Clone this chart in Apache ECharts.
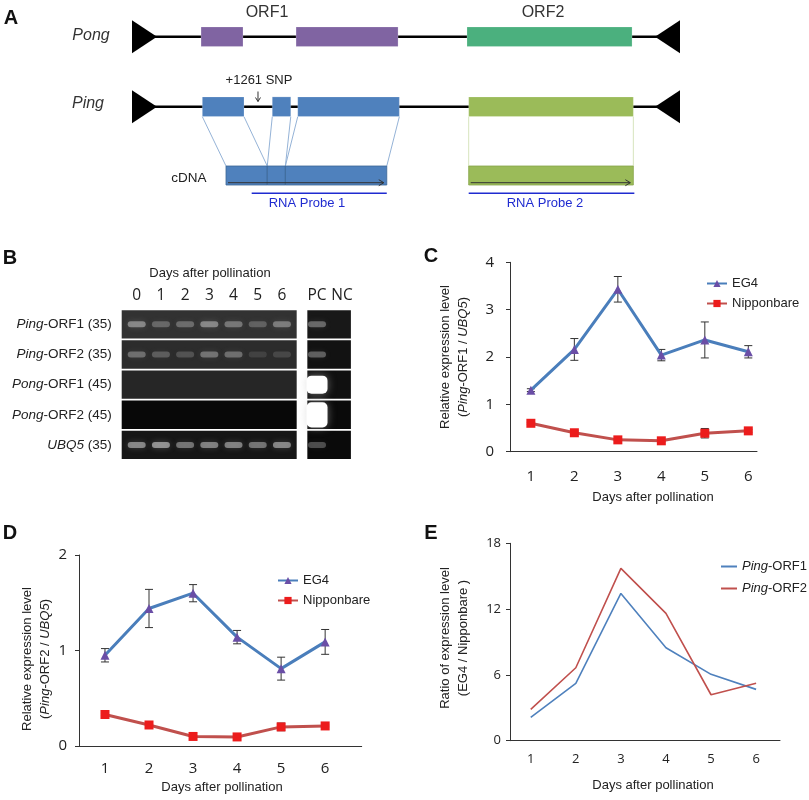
<!DOCTYPE html>
<html>
<head>
<meta charset="utf-8">
<script src="https://cdn.jsdelivr.net/npm/echarts@6/dist/echarts.min.js"></script>
<style>
html, body { margin: 0; padding: 0; background: #fff; }
#chart { width: 809px; height: 800px; }
</style>
</head>
<body>
<div id="chart"></div>
<script>
// ---------- data ----------
const days = [1, 2, 3, 4, 5, 6]

// C: Ping-ORF1 / UBQ5
const orf1EG4 = [1.30, 2.16, 3.43, 2.04, 2.36, 2.11]
const orf1EG4Err = [0.03, 0.23, 0.27, 0.12, 0.38, 0.13]
const orf1Nip = [0.60, 0.40, 0.25, 0.23, 0.39, 0.44]
const orf1NipErr = [0.02, 0.04, 0.02, 0.02, 0.10, 0.03]

// D: Ping-ORF2 / UBQ5
const orf2EG4 = [0.95, 1.44, 1.60, 1.14, 0.81, 1.09]
const orf2EG4Err = [0.07, 0.20, 0.09, 0.07, 0.12, 0.13]
const orf2Nip = [0.33, 0.22, 0.10, 0.095, 0.20, 0.21]
const orf2NipErr = [0.01, 0.01, 0.01, 0.01, 0.04, 0.01]

// E: ratio EG4 / Nipponbare
const ratioOrf1 = [2.13, 5.23, 13.43, 8.48, 6.05, 4.68]
const ratioOrf2 = [2.86, 6.65, 15.71, 11.61, 4.19, 5.23]

// B: RT-PCR gel, band strength per lane (>1 = saturated)
const gelRows = ['{i|Ping}-ORF1 (35)', '{i|Ping}-ORF2 (35)', '{i|Pong}-ORF1 (45)', '{i|Pong}-ORF2 (45)', '{i|UBQ5} (35)']
const gelLanes = ['0', '1', '2', '3', '4', '5', '6', 'PC', 'NC']
const laneX = [0, 1, 2, 3, 4, 5, 6, 7.45, 8.48]
const bandLevel = [
  [0.75, 0.45, 0.5, 0.75, 0.6, 0.4, 0.65, 0.6, 0],
  [0.55, 0.4, 0.3, 0.6, 0.55, 0.15, 0.2, 0.55, 0],
  [0, 0, 0, 0, 0, 0, 0, 2, 0],
  [0, 0, 0, 0, 0, 0, 0, 2.8, 0],
  [0.85, 0.95, 0.7, 0.8, 0.8, 0.7, 0.85, 0.45, 0],
]

// A: element structure (bp)
const elementSpan = [0, 5485]
const tirs = [[0, 250, 1], [5235, 5485, -1]]
const pongExons = [[691, 1111, 1], [1642, 2663, 1], [3353, 5005, 2]]
const pingExons = [[704, 1121, 1], [1404, 1589, 1], [1659, 2676, 1], [3370, 5018, 2]]
const cdnaBlocks = [[941, 1354, 1], [1354, 1535, 1], [1535, 2550, 1], [3370, 5018, 2]]
const splicePairs = [[704, 941, 1], [1121, 1354, 1], [1404, 1354, 1], [1589, 1535, 1], [1659, 1535, 1], [2676, 2550, 1], [3370, 3370, 2], [5018, 5018, 2]]
const transcripts = [[941, 2550], [3370, 5018]]
const probes = [[1198, 2550], [3370, 5028]]
const snpPos = 1261

// ---------- layout / style ----------
const SANS = '"Liberation Sans", Arial, sans-serif'
const NUM = '"Open Sans", sans-serif'
const pongY = 36.7, pingY = 106.7, cdnaY = 175.5, probeY = 193.3
const pongCol = { 1: '#8064a2', 2: '#4bb07e' }
const pingCol = { 1: '#4f81bd', 2: '#9bbb59' }
const linkCol = { 1: '#95b3d7', 2: '#d7e4bd' }
const gelMain = [-0.62, 6.61], gelSide = [7.05, 8.85]
const shadeMain = [50, 44, 38, 8, 22], shadeSide = [24, 18, 16, 10, 10]

const chart = echarts.init(document.getElementById('chart'))

function seg(api, a, b, y) {
  return [api.coord([a, y]), api.coord([b, y])]
}

// panel A series (grid 0)
const aSeries = [
  {
    type: 'custom', xAxisIndex: 0, yAxisIndex: 0, z: 1,
    data: [[elementSpan[0], elementSpan[1], pongY], [elementSpan[0], elementSpan[1], pingY]],
    renderItem: (p, api) => {
      const [s, e] = seg(api, api.value(0), api.value(1), api.value(2))
      return { type: 'line', shape: { x1: s[0], y1: s[1], x2: e[0], y2: e[1] }, style: { stroke: '#000', lineWidth: 2.5 } }
    },
  },
  {
    type: 'custom', xAxisIndex: 0, yAxisIndex: 0, z: 2,
    data: tirs.flatMap((t) => [[t[0], t[1], pongY, t[2]], [t[0], t[1], pingY, t[2]]]),
    renderItem: (p, api) => {
      const [s, e] = seg(api, api.value(0), api.value(1), api.value(2))
      const h = 16.5
      const pts = api.value(3) > 0
        ? [[s[0], s[1] - h], [s[0], s[1] + h], [e[0], s[1]]]
        : [[e[0], s[1] - h], [e[0], s[1] + h], [s[0], s[1]]]
      return { type: 'polygon', shape: { points: pts }, style: { fill: '#000' } }
    },
  },
  {
    type: 'custom', xAxisIndex: 0, yAxisIndex: 0, z: 3,
    data: pongExons.map((x) => [x[0], x[1], pongY, x[2], 0])
      .concat(pingExons.map((x) => [x[0], x[1], pingY, x[2], 1]))
      .concat(cdnaBlocks.map((x) => [x[0], x[1], cdnaY, x[2], 2])),
    renderItem: (p, api) => {
      const [s, e] = seg(api, api.value(0), api.value(1), api.value(2))
      const kind = api.value(4), orf = api.value(3)
      const fill = kind === 0 ? pongCol[orf] : pingCol[orf]
      const h = kind === 2 ? 19 : 19.6
      return {
        type: 'rect',
        shape: { x: s[0], y: s[1] - h / 2, width: e[0] - s[0], height: h },
        style: { fill, stroke: kind === 2 ? (orf === 1 ? '#3a6494' : '#86a349') : 'rgba(255,255,255,0.35)', lineWidth: kind === 2 ? 0.8 : 0.6 },
      }
    },
  },
  {
    type: 'custom', xAxisIndex: 0, yAxisIndex: 0, z: 2,
    data: splicePairs,
    renderItem: (p, api) => {
      const a = api.coord([api.value(0), pingY + 10])
      const b = api.coord([api.value(1), cdnaY - 9.5])
      return { type: 'line', shape: { x1: a[0], y1: a[1], x2: b[0], y2: b[1] }, style: { stroke: linkCol[api.value(2)], lineWidth: 1 } }
    },
  },
  {
    type: 'custom', xAxisIndex: 0, yAxisIndex: 0, z: 4,
    data: transcripts,
    renderItem: (p, api) => {
      const [s, e] = seg(api, api.value(0), api.value(1), cdnaY + 7.2)
      const x1 = s[0] + 2, x2 = e[0] - 3, y = s[1]
      return {
        type: 'group',
        children: [
          { type: 'line', shape: { x1, y1: y, x2, y2: y }, style: { stroke: '#333', lineWidth: 1 } },
          { type: 'polyline', shape: { points: [[x2 - 5, y - 3], [x2, y], [x2 - 5, y + 3]] }, style: { stroke: '#333', lineWidth: 1, fill: null } },
        ],
      }
    },
  },
  {
    type: 'custom', xAxisIndex: 0, yAxisIndex: 0, z: 4,
    data: probes,
    renderItem: (p, api) => {
      const [s, e] = seg(api, api.value(0), api.value(1), probeY)
      return { type: 'line', shape: { x1: s[0], y1: s[1], x2: e[0], y2: e[1] }, style: { stroke: '#1f2bd0', lineWidth: 1.5 } }
    },
  },
  {
    type: 'custom', xAxisIndex: 0, yAxisIndex: 0, z: 4,
    data: [[snpPos]],
    renderItem: (p, api) => {
      const a = api.coord([api.value(0), 91.5])
      const b = api.coord([api.value(0), 101.5])
      return {
        type: 'group',
        children: [
          { type: 'line', shape: { x1: a[0], y1: a[1], x2: b[0], y2: b[1] }, style: { stroke: '#333', lineWidth: 1 } },
          { type: 'polyline', shape: { points: [[b[0] - 2.5, b[1] - 4], [b[0], b[1]], [b[0] + 2.5, b[1] - 4]] }, style: { stroke: '#333', lineWidth: 1, fill: null } },
        ],
      }
    },
  },
]

// panel B series (grid 1)
const gelStrips = []
gelRows.forEach((r, i) => {
  gelStrips.push([gelMain[0], gelMain[1], i, shadeMain[i]])
  gelStrips.push([gelSide[0], gelSide[1], i, shadeSide[i]])
})
const bands = []
bandLevel.forEach((row, r) => row.forEach((v, l) => { if (v > 0) bands.push([laneX[l], r, v]) }))

const bSeries = [
  {
    type: 'custom', xAxisIndex: 1, yAxisIndex: 1, z: 1,
    data: gelStrips,
    renderItem: (p, api) => {
      const a = api.coord([api.value(0), api.value(2) - 0.47])
      const b = api.coord([api.value(1), api.value(2) + 0.47])
      const g = api.value(3)
      return { type: 'rect', shape: { x: a[0], y: a[1], width: b[0] - a[0], height: b[1] - a[1] }, style: { fill: `rgb(${g},${g},${g})` } }
    },
  },
  {
    type: 'custom', xAxisIndex: 1, yAxisIndex: 1, z: 2,
    data: bands,
    renderItem: (p, api) => {
      const c = api.coord([api.value(0), api.value(1)])
      const lvl = api.value(2)
      const big = lvl > 1
      const w = big ? 21 : 18
      const h = big ? 9 * lvl : 6
      const a = Math.min(lvl, 1)
      return {
        type: 'rect',
        shape: { x: c[0] - w / 2, y: c[1] - h / 2, width: w, height: h, r: big ? 5 : 3 },
        style: {
          fill: big ? '#ffffff' : `rgba(205,205,205,${(0.05 + 0.6 * a).toFixed(2)})`,
          shadowBlur: big ? 8 : 6,
          shadowColor: `rgba(200,200,200,${(0.5 * a).toFixed(2)})`,
        },
      }
    },
  },
]

// panels C, D, E
function errSeries(axis, vals, errs, z) {
  return {
    type: 'custom', xAxisIndex: axis, yAxisIndex: axis, z,
    data: days.map((d, i) => [d, vals[i] - errs[i], vals[i] + errs[i]]),
    renderItem: (p, api) => {
      const lo = api.coord([api.value(0), api.value(1)])
      const hi = api.coord([api.value(0), api.value(2)])
      const x = lo[0], cw = 4
      const st = { stroke: '#333', lineWidth: 1 }
      return {
        type: 'group',
        children: [
          { type: 'line', shape: { x1: x, y1: lo[1], x2: x, y2: hi[1] }, style: st },
          { type: 'line', shape: { x1: x - cw, y1: lo[1], x2: x + cw, y2: lo[1] }, style: st },
          { type: 'line', shape: { x1: x - cw, y1: hi[1], x2: x + cw, y2: hi[1] }, style: st },
        ],
      }
    },
  }
}

function eg4Line(axis, vals) {
  return {
    name: 'EG4', type: 'line', xAxisIndex: axis, yAxisIndex: axis, z: 3,
    data: days.map((d, i) => [d, vals[i]]),
    symbol: 'triangle', symbolSize: 9,
    lineStyle: { color: '#4a7ebb', width: 3 },
    itemStyle: { color: '#6a4ea6', borderWidth: 0 },
  }
}
function nipLine(axis, vals) {
  return {
    name: 'Nipponbare', type: 'line', xAxisIndex: axis, yAxisIndex: axis, z: 3,
    data: days.map((d, i) => [d, vals[i]]),
    symbol: 'rect', symbolSize: 9,
    lineStyle: { color: '#c0504d', width: 3 },
    itemStyle: { color: '#ec1c1c', borderWidth: 0 },
  }
}

const cdeSeries = [
  errSeries(2, orf1EG4, orf1EG4Err, 2), errSeries(2, orf1Nip, orf1NipErr, 2),
  eg4Line(2, orf1EG4), nipLine(2, orf1Nip),
  errSeries(3, orf2EG4, orf2EG4Err, 2), errSeries(3, orf2Nip, orf2NipErr, 2),
  eg4Line(3, orf2EG4), nipLine(3, orf2Nip),
  {
    name: 'Ping-ORF1', type: 'line', xAxisIndex: 4, yAxisIndex: 4,
    data: days.map((d, i) => [d, ratioOrf1[i]]), symbol: 'none',
    lineStyle: { color: '#4f81bd', width: 1.6 }, itemStyle: { color: '#4f81bd' },
  },
  {
    name: 'Ping-ORF2', type: 'line', xAxisIndex: 4, yAxisIndex: 4,
    data: days.map((d, i) => [d, ratioOrf2[i]]), symbol: 'none',
    lineStyle: { color: '#c0504d', width: 1.6 }, itemStyle: { color: '#c0504d' },
  },
]

const hiddenAxis = { show: false, splitLine: { show: false } }

function dayAxis(grid, min, max, fs, margin) {
  return {
    gridIndex: grid, type: 'value', min, max,
    axisLine: { show: true, lineStyle: { color: '#333', width: 1 } },
    axisTick: { show: false },
    splitLine: { show: false },
    axisLabel: { customValues: days, fontSize: fs, fontFamily: NUM, color: '#222', margin },
  }
}
function levelAxis(grid, max, interval, fs, margin) {
  return {
    gridIndex: grid, type: 'value', min: 0, max, interval,
    axisLine: { show: true, lineStyle: { color: '#333', width: 1 } },
    axisTick: { show: true, length: 4, lineStyle: { color: '#333' } },
    splitLine: { show: false },
    axisLabel: { fontSize: fs, fontFamily: NUM, color: '#222', margin },
  }
}

const legendText = { fontSize: 13, fontFamily: SANS, color: '#222' }

function txt(x, y, text, style, extra) {
  return Object.assign({
    type: 'text', x, y, silent: true,
    style: Object.assign({ text, fontSize: 13, fontFamily: SANS, fill: '#222', align: 'center', verticalAlign: 'middle' }, style),
  }, extra || {})
}
const italic = { fontStyle: 'italic', fontSize: 13, fontFamily: SANS, fill: '#222' }
const letter = { fontSize: 20, fontWeight: 'bold', fill: '#111' }

const option = {
  animation: false,
  backgroundColor: '#fff',
  textStyle: { fontFamily: SANS },
  grid: [
    { left: 132, top: 0, width: 548, height: 220, outerBoundsMode: 'none' },
    { left: 121.7, top: 309.3, width: 229.2, height: 150.7, outerBoundsMode: 'none' },
    { left: 510, top: 262.3, width: 247, height: 189.4, outerBoundsMode: 'none' },
    { left: 79, top: 555, width: 282.7, height: 191, outerBoundsMode: 'none' },
    { left: 510, top: 543.3, width: 270, height: 197.4, outerBoundsMode: 'none' },
  ],
  xAxis: [
    Object.assign({ gridIndex: 0, type: 'value', min: elementSpan[0], max: elementSpan[1] }, hiddenAxis),
    {
      gridIndex: 1, type: 'value', min: -0.62, max: 8.85, position: 'top',
      axisLine: { show: false }, axisTick: { show: false }, splitLine: { show: false },
      axisLabel: {
        customValues: laneX, margin: 6, fontSize: 15.5, fontFamily: NUM, color: '#222',
        formatter: (v) => gelLanes[laneX.indexOf(v)],
      },
    },
    dayAxis(2, 0.52, 6.2, 15, 18),
    dayAxis(3, 0.41, 6.83, 15, 15),
    dayAxis(4, 0.54, 6.53, 13, 12),
  ],
  yAxis: [
    Object.assign({ gridIndex: 0, type: 'value', min: 0, max: 220, inverse: true }, hiddenAxis),
    {
      gridIndex: 1, type: 'value', min: -0.5, max: 4.5, inverse: true,
      axisLine: { show: false }, axisTick: { show: false }, splitLine: { show: false },
      axisLabel: {
        customValues: [0, 1, 2, 3, 4], margin: 10, fontSize: 13.5, fontFamily: SANS, color: '#222',
        formatter: (v) => gelRows[Math.round(v)],
        rich: { i: { fontStyle: 'italic', fontSize: 13.5, fontFamily: SANS, color: '#222' } },
      },
    },
    levelAxis(2, 4, 1, 15, 16),
    levelAxis(3, 2, 1, 15, 12),
    levelAxis(4, 18, 6, 13, 9),
  ],
  legend: [
    {
      data: ['EG4', 'Nipponbare'], left: 701, top: 272, orient: 'vertical',
      itemWidth: 20, itemHeight: 9, itemGap: 7, selectedMode: false, textStyle: legendText,
    },
    {
      data: ['EG4', 'Nipponbare'], left: 272, top: 569, orient: 'vertical',
      itemWidth: 20, itemHeight: 9, itemGap: 7, selectedMode: false, textStyle: legendText,
    },
    {
      data: [{ name: 'Ping-ORF1', icon: 'rect' }, { name: 'Ping-ORF2', icon: 'rect' }],
      left: 716, top: 555, orient: 'vertical',
      itemWidth: 16, itemHeight: 2, itemGap: 9, selectedMode: false,
      formatter: (n) => n.replace('Ping', '{i|Ping}'),
      textStyle: Object.assign({ rich: { i: { fontStyle: 'italic', fontSize: 13, fontFamily: SANS, color: '#222' } } }, legendText),
    },
  ],
  graphic: {
    elements: [
      // panel letters
      txt(11, 18, 'A', letter), txt(10, 258, 'B', letter), txt(431, 256, 'C', letter),
      txt(10, 533, 'D', letter), txt(431, 533, 'E', letter),
      // A labels
      txt(91, 36, 'Pong', { fontSize: 16, fontStyle: 'italic', fill: '#333' }),
      txt(88, 104, 'Ping', { fontSize: 16, fontStyle: 'italic', fill: '#333' }),
      txt(267, 13, 'ORF1', { fontSize: 16, fill: '#333' }),
      txt(543, 13, 'ORF2', { fontSize: 16, fill: '#333' }),
      txt(259, 80, '+1261 SNP', { fontSize: 13 }),
      txt(189, 178, 'cDNA', { fontSize: 13.5 }),
      txt(307, 203, 'RNA Probe 1', { fontSize: 13, fill: '#1f2bd0' }),
      txt(545, 203, 'RNA Probe 2', { fontSize: 13, fill: '#1f2bd0' }),
      // B
      txt(210, 273, 'Days after pollination', { fontSize: 13 }),
      // C
      txt(653, 497, 'Days after pollination'),
      txt(454, 357, 'Relative expression level\n({i|Ping}-ORF1 / {i|UBQ5})', { lineHeight: 18, rich: { i: italic } }, { rotation: Math.PI / 2 }),
      // D
      txt(222, 787, 'Days after pollination'),
      txt(36.5, 659, 'Relative expression level\n({i|Ping}-ORF2 / {i|UBQ5})', { lineHeight: 18, rich: { i: italic } }, { rotation: Math.PI / 2 }),
      // E
      txt(653, 785, 'Days after pollination'),
      txt(454, 638, 'Ratio of expression level\n(EG4 / Nipponbare )', { lineHeight: 18 }, { rotation: Math.PI / 2 }),
    ],
  },
  series: aSeries.concat(bSeries, cdeSeries),
}

chart.setOption(option)
</script>
</body>
</html>
